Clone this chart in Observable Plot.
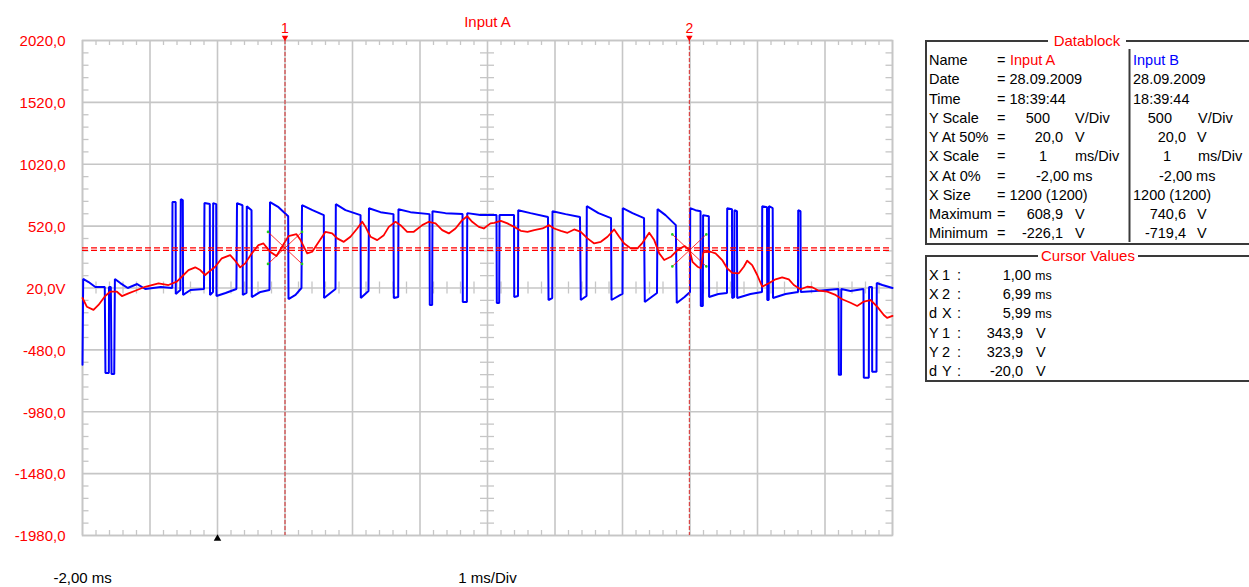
<!DOCTYPE html>
<html><head><meta charset="utf-8">
<script src="https://cdn.jsdelivr.net/npm/d3@7"></script>
<script src="https://cdn.jsdelivr.net/npm/@observablehq/plot@0.6"></script>
<style>
html,body{margin:0;padding:0;background:#fff;overflow:hidden}
#chart{position:relative;width:1249px;height:587px}
</style></head><body><div id="chart"></div>
<script>
// ---------- data ----------
const xMajor = [-2,-1,0,1,2,3,4,5,6,7,8,9,10];
const yMajor = [2020,1520,1020,520,20,-480,-980,-1480,-1980];
const yLabels = ["2020,0","1520,0","1020,0","520,0","20,0V","-480,0","-980,0","-1480,0","-1980,0"];
const titleText = "Input A";
const xStartLabel = "-2,00 ms";
const xScaleLabel = "1 ms/Div";
const triggerT = [0];

// Input B (blue) [ms, V]
const blueTrace = [
[-2.00,-600],[-1.99,93],[-1.91,68],[-1.81,28],[-1.67,28],[-1.66,-666],[-1.61,-666],[-1.607,28],[-1.58,28],[-1.57,-674],[-1.53,-674],[-1.52,93],[-1.44,60],[-1.33,20],[-1.19,52],[-1.07,12],[-0.84,28],[-0.67,20],
[-0.667,714],[-0.62,714],[-0.618,-28],[-0.55,4],[-0.544,738],[-0.514,730],[-0.51,-36],[-0.40,4],[-0.20,12],
[-0.193,706],[-0.114,698],[-0.111,-36],[-0.067,-12],[-0.064,706],[-0.019,698],[-0.015,-45],[0.12,-20],[0.28,12],
[0.289,706],[0.37,689],[0.375,-36],[0.43,-20],[0.434,681],[0.504,649],[0.508,-53],[0.637,-12],[0.77,4],
[0.778,714],[0.904,673],[1.047,600],[1.052,-69],[1.156,-36],[1.244,20],
[1.252,689],[1.407,649],[1.575,609],[1.579,-61],[1.748,12],
[1.753,697],[1.896,649],[2.119,609],[2.123,-61],[2.237,-4],
[2.244,665],[2.415,633],[2.607,617],[2.612,-61],[2.677,-53],[2.681,657],[2.859,633],[3.141,617],[3.145,-117],[3.18,-117],[3.185,641],[3.378,625],[3.63,617],[3.634,-93],[3.695,-93],[3.7,625],[3.896,609],[4.133,609],[4.138,-101],[4.173,-101],[4.178,609],[4.393,609],
[4.396,-53],[4.452,-45],[4.455,649],[4.637,625],[4.896,593],[4.904,-77],[4.959,-61],[4.963,641],[5.156,617],[5.370,593],[5.382,-77],[5.467,-45],[5.471,681],[5.644,625],[5.83,585],[5.837,-77],[5.97,-36],[6.0,-28],[6.004,665],[6.148,625],[6.319,585],[6.33,-93],[6.511,-20],[6.519,657],[6.637,609],[6.79,528],[6.804,-101],[6.919,-53],[7.0,-12],
[7.003,665],[7.081,649],[7.156,641],[7.16,-125],[7.19,-125],[7.194,609],[7.279,600],[7.283,-53],[7.42,-28],[7.548,-20],[7.551,665],[7.622,657],[7.625,-61],[7.655,-53],[7.659,649],[7.696,641],[7.699,-61],[7.896,-28],[8.067,-12],[8.07,681],[8.141,673],[8.145,-77],[8.166,-77],[8.17,681],[8.225,665],[8.23,-61],[8.415,-28],[8.6,-12],[8.603,649],[8.637,641],[8.641,-12],[8.859,-4],[9.2,12],[9.205,-682],[9.237,-682],[9.241,12],[9.378,-4],[9.57,12],[9.575,-706],[9.649,-706],[9.653,28],[9.696,28],[9.699,-657],[9.763,-657],[9.767,60],[9.85,44],[10.0,20]
];

// Input A (red) [ms, V]
const redTrace = [
[-2.0,-61],[-1.936,-131],[-1.837,-157],[-1.763,-117],[-1.664,-45],[-1.59,-10],[-1.49,-10],[-1.416,-45],[-1.319,-23],[-1.219,-2],[-1.071,30],[-0.874,58],[-0.726,44],[-0.603,71],[-0.529,111],[-0.43,165],[-0.33,187],[-0.256,165],[-0.182,125],[-0.108,160],[-0.034,192],[0.064,260],[0.188,286],[0.262,240],[0.336,187],[0.41,219],[0.508,300],[0.607,367],[0.681,380],[0.785,310],[0.874,278],[0.963,359],[1.052,439],[1.17,455],[1.23,407],[1.329,300],[1.403,313],[1.501,393],[1.6,474],[1.699,461],[1.773,421],[1.871,393],[1.97,434],[2.07,501],[2.144,555],[2.193,514],[2.267,434],[2.366,407],[2.464,447],[2.538,514],[2.637,555],[2.711,528],[2.81,474],[2.908,474],[3.033,528],[3.13,555],[3.23,542],[3.329,488],[3.427,461],[3.526,501],[3.625,568],[3.699,600],[3.773,555],[3.871,514],[3.945,501],[4.044,542],[4.099,547],[4.197,563],[4.296,542],[4.396,514],[4.493,482],[4.593,474],[4.692,488],[4.815,501],[4.914,528],[4.988,501],[5.086,482],[5.185,466],[5.284,493],[5.382,474],[5.481,421],[5.581,380],[5.679,393],[5.778,434],[5.877,493],[5.951,434],[6.025,380],[6.123,340],[6.222,340],[6.296,385],[6.396,466],[6.47,407],[6.544,300],[6.618,246],[6.716,272],[6.815,326],[6.919,359],[6.993,326],[7.037,232],[7.111,192],[7.16,181],[7.2,310],[7.304,313],[7.378,300],[7.477,246],[7.551,179],[7.625,143],[7.723,139],[7.797,192],[7.847,240],[7.921,205],[7.996,125],[8.07,30],[8.167,58],[8.267,90],[8.366,106],[8.464,90],[8.538,44],[8.637,10],[8.736,30],[8.81,26],[8.909,-2],[9.033,-10],[9.156,-36],[9.255,-71],[9.378,-99],[9.477,-125],[9.575,-90],[9.674,-77],[9.773,-131],[9.871,-198],[9.92,-222],[10.0,-205]
];

// cursors
const cursorNames = ["1","2"];
const cursorX = [1.00, 6.99];
const cursorY = [343.9, 323.9];

// datablock
const dbTitle = "Datablock";
const dbLabels = ["Name","Date","Time","Y Scale","Y At 50%","X Scale","X At 0%","X Size","Maximum","Minimum"];
const dbNames = ["Input A","Input B"];
const dbDate = "28.09.2009";
const dbTime = "18:39:44";
const dbYScale = ["500","500"];
const dbYAt50 = ["20,0","20,0"];
const dbXScale = ["1","1"];
const dbXAt0 = ["-2,00 ms","-2,00 ms"];
const dbXSize = ["1200 (1200)","1200 (1200)"];
const dbMax = ["608,9","740,6"];
const dbMin = ["-226,1","-719,4"];

const cvTitle = "Cursor Values";
const cvLabels = [["X","1"],["X","2"],["d","X"],["Y","1"],["Y","2"],["d","Y"]];
const cvValues = ["1,00","6,99","5,99","343,9","323,9","-20,0"];
const cvUnits = ["ms","ms","ms","V","V","V"];

// ---------- chart ----------
const FONT = "'Liberation Sans', Arial, sans-serif";
const RED = "#ff0000", BLUE = "#0000ff", GRID = "#c6c6c6";
const W = 1249, H = 587, ML = 82, MR = 357, MT = 40, MB = 52;
const pxT = 12 / (W - ML - MR);      // ms per pixel
const pxV = 4000 / (H - MT - MB);    // V per pixel

const minorX = d3.range(-2, 10.0001, 0.2).filter(t => Math.abs(t - Math.round(t)) > 1e-6);
const minorY = d3.range(-1980, 2020.001, 100).filter(v => Math.abs(((v - 20) % 500)) > 1e-6);

const arms = [];
const armEnds = [];
cursorX.forEach((t, i) => {
  const v = cursorY[i], dt = 17 * pxT, dv = 16 * pxV;
  arms.push({x1: t - dt, y1: v + dv, x2: t + dt, y2: v - dv});
  arms.push({x1: t - dt, y1: v - dv, x2: t + dt, y2: v + dv});
  armEnds.push([t - dt, v + dv], [t + dt, v - dv], [t - dt, v - dv], [t + dt, v + dv]);
});

const plot = Plot.plot({
  width: W, height: H,
  marginLeft: ML, marginRight: MR, marginTop: MT, marginBottom: MB,
  x: {domain: [-2, 10], axis: null},
  y: {domain: [-1980, 2020], axis: null},
  style: {background: "white", fontFamily: FONT, overflow: "visible"},
  marks: [
    Plot.ruleX(xMajor, {x: d => d, stroke: GRID, strokeWidth: 1.6}),
    Plot.ruleY(yMajor, {y: d => d, stroke: GRID, strokeWidth: 1.6}),
    // border minor ticks
    Plot.ruleX(minorX, {x: d => d, y1: 2020, y2: 2020 - 5 * pxV, stroke: GRID, strokeWidth: 1.3}),
    Plot.ruleX(minorX, {x: d => d, y1: -1980, y2: -1980 + 5 * pxV, stroke: GRID, strokeWidth: 1.3}),
    Plot.ruleY(minorY, {y: d => d, x1: -2, x2: -2 + 6.5 * pxT, stroke: GRID, strokeWidth: 1.3}),
    Plot.ruleY(minorY, {y: d => d, x1: 10 - 6.5 * pxT, x2: 10, stroke: GRID, strokeWidth: 1.3}),
    // centre axes ticks
    Plot.ruleY(minorY, {y: d => d, x1: 4 - 7 * pxT, x2: 4 + 7 * pxT, stroke: GRID, strokeWidth: 1.3}),
    Plot.ruleX(minorX, {x: d => d, y1: 20 - 6 * pxV, y2: 20 + 6 * pxV, stroke: GRID, strokeWidth: 1.3}),
    Plot.frame({stroke: GRID, strokeWidth: 1.6}),
    // y labels
    Plot.text(yMajor, {x: () => -2, y: d => d, text: (d, i) => yLabels[i], textAnchor: "end", dx: -17, dy: 1, fill: RED, fontSize: 15}),
    // traces
    Plot.line(blueTrace, {x: d => d[0], y: d => d[1], stroke: BLUE, strokeWidth: 2, strokeLinejoin: "miter"}),
    Plot.ruleY(cursorY, {y: d => d, stroke: RED, strokeWidth: 1.3, strokeDasharray: "6,3"}),
    Plot.line(redTrace, {x: d => d[0], y: d => d[1], stroke: RED, strokeWidth: 1.8}),
    Plot.ruleX(cursorX, {x: d => d, stroke: "#d82828", strokeWidth: 1, strokeDasharray: "4,2"}),
    Plot.link(arms, {x1: "x1", y1: "y1", x2: "x2", y2: "y2", stroke: RED, strokeWidth: 1, strokeOpacity: 0.8}),
    Plot.dot(armEnds, {x: d => d[0], y: d => d[1], r: 1.3, fill: "#22cc22", stroke: null}),
    // cursor markers
    Plot.text(cursorX, {x: d => d, text: (d, i) => cursorNames[i], frameAnchor: "top", lineAnchor: "middle", dy: -11.5, fill: RED, fontSize: 14}),
    Plot.dot(cursorX, {x: d => d, frameAnchor: "top", dy: -3, symbol: "triangle", rotate: 180, r: 2.4, fill: RED, stroke: null}),
    Plot.dot(triggerT, {x: d => d, frameAnchor: "bottom", dy: 3, symbol: "triangle", r: 2.8, fill: "black", stroke: null}),
    // titles
    Plot.text([titleText], {frameAnchor: "top", lineAnchor: "middle", dy: -18, fill: RED, fontSize: 15}),
    Plot.text([xStartLabel], {frameAnchor: "bottom-left", lineAnchor: "middle", textAnchor: "start", dx: -29, dy: 43, fill: "black", fontSize: 15}),
    Plot.text([xScaleLabel], {frameAnchor: "bottom", lineAnchor: "middle", dy: 43, fill: "black", fontSize: 15})
  ]
});
document.getElementById("chart").appendChild(plot);

// ---------- side panels ----------
const svg = d3.select(plot);
const g = svg.append("g").attr("font-family", FONT).attr("font-size", 14.5).attr("fill", "black");
function txt(s, x, y, anchor, color, size) {
  const t = g.append("text").attr("x", x).attr("y", y).attr("text-anchor", anchor || "start").text(s);
  if (color) t.attr("fill", color);
  if (size) t.attr("font-size", size);
  return t;
}
function box(x, y, w, h, title, titleX, titleW) {
  g.append("rect").attr("x", x).attr("y", y).attr("width", w).attr("height", h)
    .attr("fill", "none").attr("stroke", "#3a3a3a").attr("stroke-width", 2);
  g.append("rect").attr("x", titleX - titleW / 2).attr("y", y - 4).attr("width", titleW).attr("height", 8).attr("fill", "white");
  txt(title, titleX, y + 5, "middle", RED, 15);
}
// Datablock
box(926, 41, 340, 203, dbTitle, 1087, 78);
g.append("line").attr("x1", 1129.5).attr("x2", 1129.5).attr("y1", 49).attr("y2", 242).attr("stroke", "#3a3a3a").attr("stroke-width", 2);
const rowY = i => 65 + i * 19.25;
dbLabels.forEach((l, i) => txt(l, 929, rowY(i)));
const eqX = 997;
txt("=", eqX, rowY(0)); txt(dbNames[0], 1010, rowY(0), "start", RED); txt(dbNames[1], 1133, rowY(0), "start", BLUE);
txt("= " + dbDate, eqX, rowY(1)); txt(dbDate, 1133, rowY(1));
txt("= " + dbTime, eqX, rowY(2)); txt(dbTime, 1133, rowY(2));
txt("=", eqX, rowY(3)); txt(dbYScale[0], 1050, rowY(3), "end"); txt("V/Div", 1075, rowY(3)); txt(dbYScale[1], 1172, rowY(3), "end"); txt("V/Div", 1198, rowY(3));
txt("=", eqX, rowY(4)); txt(dbYAt50[0], 1063, rowY(4), "end"); txt("V", 1075, rowY(4)); txt(dbYAt50[1], 1186, rowY(4), "end"); txt("V", 1197, rowY(4));
txt("=", eqX, rowY(5)); txt(dbXScale[0], 1047, rowY(5), "end"); txt("ms/Div", 1075, rowY(5)); txt(dbXScale[1], 1171, rowY(5), "end"); txt("ms/Div", 1198, rowY(5));
txt("=", eqX, rowY(6)); txt(dbXAt0[0], 1036, rowY(6)); txt(dbXAt0[1], 1159, rowY(6));
txt("= " + dbXSize[0], eqX, rowY(7)); txt(dbXSize[1], 1133, rowY(7));
txt("=", eqX, rowY(8)); txt(dbMax[0], 1063, rowY(8), "end"); txt("V", 1075, rowY(8)); txt(dbMax[1], 1186, rowY(8), "end"); txt("V", 1197, rowY(8));
txt("=", eqX, rowY(9)); txt(dbMin[0], 1063, rowY(9), "end"); txt("V", 1075, rowY(9)); txt(dbMin[1], 1186, rowY(9), "end"); txt("V", 1197, rowY(9));

// Cursor Values
box(926, 256, 340, 125, cvTitle, 1088, 100);
const cvY = i => 280 + i * 19.2;
cvLabels.forEach((l, i) => {
  txt(l[0], 929, cvY(i));
  txt(l[1], 942, cvY(i));
  txt(":", 957, cvY(i));
  if (cvUnits[i] === "ms") {
    txt(cvValues[i], 1031, cvY(i), "end");
    txt(cvUnits[i], 1035, cvY(i), "start", null, 12.5);
  } else {
    txt(cvValues[i], 1023, cvY(i), "end");
    txt(cvUnits[i], 1036, cvY(i));
  }
});
</script></body></html>
